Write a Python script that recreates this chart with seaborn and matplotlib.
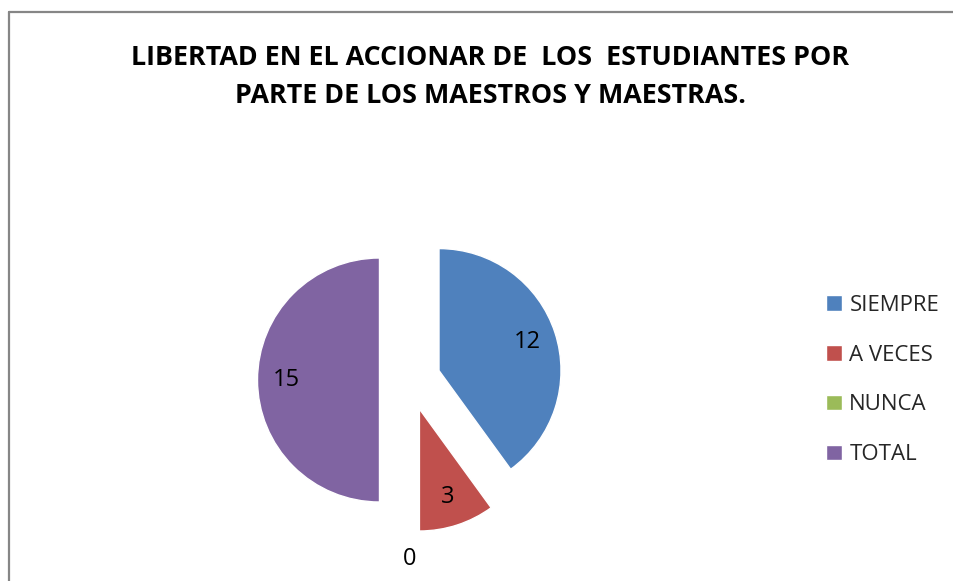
import matplotlib
matplotlib.use("Agg")
import matplotlib.pyplot as plt
import seaborn as sns
from matplotlib.lines import Line2D

sns.set_theme(style="white")
plt.rcParams['font.family'] = ['Open Sans', 'DejaVu Sans']

# datos del grafico
categorias = ['SIEMPRE', 'A VECES', 'NUNCA', 'TOTAL']
valores = [12, 3, 0, 15]
colores = ['#4F81BD', '#C0504D', '#9BBB59', '#8064A2']
titulo = 'LIBERTAD EN EL ACCIONAR DE  LOS  ESTUDIANTES POR\nPARTE DE LOS MAESTROS Y MAESTRAS.'

fig = plt.figure(figsize=(9.54, 5.81), dpi=100)

# marco del grafico (solo borde superior e izquierdo visibles)
fig.add_artist(Line2D([9/954, 9/954], [0, 1 - 12/581], color='#868686', lw=1.6,
                      transform=fig.transFigure))
fig.add_artist(Line2D([9/954, 1], [1 - 12/581, 1 - 12/581], color='#868686', lw=1.6,
                      transform=fig.transFigure))

# titulo cortado arriba
fig.text(490/954, 1 - 4/581, 'GRAFICO Nº 4', ha='center', va='bottom',
         fontsize=17, fontweight='bold', family='Liberation Serif', color='black')

fig.text(490/954, 1 - 77/581, titulo, ha='center', va='center', fontsize=19.4,
         fontweight='bold', linespacing=1.6, color='black')

ax = fig.add_axes([227/954, 18/581, 366/954, 366/581])
wedges, textos, autotextos = ax.pie(
    valores, colors=colores, startangle=90, counterclock=False,
    explode=[0.25] * len(valores), radius=1,
    autopct=lambda p: f'{p * sum(valores) / 100:.0f}', pctdistance=0.76,
    textprops={'fontsize': 17, 'color': 'black'})
for v, t in zip(valores, autotextos):
    t.set_clip_on(False)
    if v == 0:
        x, y = t.get_position()
        t.set_position((x, y * 1.45))
ax.set_xlim(-1.5, 1.5)
ax.set_ylim(-1.5, 1.5)
ax.set_aspect('equal')
ax.axis('off')

fig.legend(wedges, categorias, loc='center left', bbox_to_anchor=(806/954, 1 - 380/581),
           frameon=False, handlelength=0.7, handleheight=0.7,
           labelspacing=1.3, handletextpad=0.35, prop={'size': 16})

plt.savefig('out.png', dpi=100)
